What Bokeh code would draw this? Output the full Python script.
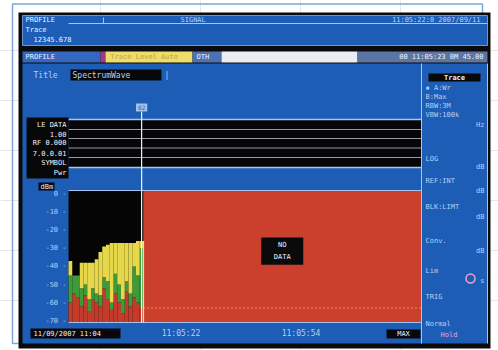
from bokeh.plotting import figure
from bokeh.models import Range1d
from bokeh.core.properties import value
from bokeh.embed import file_html
from bokeh.resources import INLINE

# ---------------- data ----------------
col_top       = [-37, -45, -45, -38, -38, -38, -38, -36, -32, -29, -28, -27, -27, -27, -27, -27, -27, -27, -26, -26]
col_green_top = [-45, -45, -45, -52, -50, -58, -52, -55, -56, -46, -48, -60, -44, -50, -58, -48, -55, -40, -45, -30]
col_red_top   = [-60, -55, -57, -62, -56, -65, -58, -60, -62, -52, -58, -64, -55, -60, -66, -54, -62, -57, -60, -63]
db_ticks = [0, -10, -20, -30, -40, -50, -60, -70]
db_tick_labels = ["0 -", "-10 -", "-20 -", "-30 -", "-40 -", "-50 -", "-60 -", "-70 -"]
db_floor = -71
db_ceiling = 2
t_span = 94
time_ticks = [30, 62]
time_labels = ["11:05:22", "11:05:54"]
start_label = "11/09/2007 11:04"
cursor_t = 19.5
cursor_label = "02"
limit_db = -63
band_labels = ["LE DATA", "1.00", "RF 0.000", "7.0.0.01", "SYMBOL"]
panel_labels = ["\u25aa A:Wr", "  B:Max", "RBW:3M", "VBW:100k", "LOG", "REF:INT", "BLK:LIMT", "Conv.", "Lim", "TRIG", "Normal"]
panel_units = ["Hz", "dB", "dB", "dB", "dB", "s"]

# ---------------- layout (page pixels) ----------------
X0, PX_PER_S = 68.0, 3.75
Y_TOP, PX_PER_DB = 190.0, 1.808
W, H = 498, 350

FONT = value("DejaVu Sans Mono")
WHITE = "#eef3ff"
LIGHT = "#b9d0f2"
BLUE = "#1d5db6"
LINE = "#a9c5ee"

p = figure(width=W, height=H, output_backend="svg", toolbar_location=None,
           x_range=Range1d(0, W), y_range=Range1d(H, 0),
           x_axis_location=None, y_axis_location=None, min_border=0,
           background_fill_color="white", border_fill_color="white")
p.outline_line_color = None
p.extra_x_ranges = {"t": Range1d((0 - X0) / PX_PER_S, (W - X0) / PX_PER_S)}
p.extra_y_ranges = {"db": Range1d(db_ceiling - (H - Y_TOP) / PX_PER_DB,
                                  db_ceiling + (Y_TOP - 0) / PX_PER_DB)}


def box(l, r, t, b, color, line=None, lw=1):
    p.quad(left=l, right=r, top=t, bottom=b, fill_color=color, line_color=line, line_width=lw)


def txt(x, y, s, color=WHITE, size="8px", align="left", style="normal", **kw):
    p.text(x=[x], y=[y], text=[s], text_color=color, text_font=FONT, text_font_size=size,
           text_align=align, text_baseline="middle", text_font_style=style, **kw)


# paper frame and screen bezel
box(12, 482, 3.5, 343, None, line="#7ea7dc", lw=1.5)
box(18, 490, 12, 348, "#0b0b0d")

# header
box(22, 487, 15, 45, BLUE, line="#6f95d0")
p.segment(x0=[68], y0=[23], x1=[487], y1=[23], line_color=LINE, line_width=1)
p.segment(x0=[103], y0=[17], x1=[103], y1=[23], line_color=LINE, line_width=1)
txt(25, 19.5, "PROFILE", size="7px")
txt(25, 29, "Trace", size="7px")
txt(33, 38.5, "12345.678", size="7px")
txt(180, 19.5, "SIGNAL", color=LIGHT, size="7px")
txt(480, 19.5, "11:05:22:0 2007/09/11", color=LIGHT, size="7px", align="right")

# status bar
box(22, 100, 51, 62, "#3467c0")
box(100, 105, 51, 62, "#9a3c86")
box(105, 192, 51, 62, "#eedd6c")
box(192, 221, 51, 62, "#4d72b2")
box(221, 357, 51, 62, "#e9eef4")
box(357, 487, 51, 62, "#5c76a4")
txt(25, 56.5, "PROFILE", size="7px")
txt(110, 56.5, "Trace  Level  Auto", color="#b8a43a", size="7px")
txt(196, 56.5, "OTH", size="7px")
txt(483, 56.5, "00 11:05:23 0M 45.00", size="7px", align="right")

# main screen area
box(22, 487, 63, 343, BLUE)
p.segment(x0=[421, 487], y0=[63, 63], x1=[421, 487], y1=[343, 343], line_color=LINE, line_width=1)

# title line
box(70, 161, 69, 80, "#08080a")
txt(33, 74.5, "Title", color=LIGHT)
txt(72, 74.5, "SpectrumWave", color=LIGHT)
txt(164, 74.5, "|", color=LIGHT)

# trace bands (time axis extent)
band_edges = [119, 129, 138, 147.5, 157, 167]
p.quad(left=[0], right=[t_span], top=[band_edges[0]], bottom=[band_edges[-1]],
       fill_color="#060608", line_color=None, x_range_name="t")
p.segment(x0=[0] * 4, y0=band_edges[1:-1], x1=[t_span] * 4, y1=band_edges[1:-1],
          line_color="#9a9aa0", line_width=1.2, x_range_name="t")
p.segment(x0=[0, 0], y0=[band_edges[0], band_edges[-1]], x1=[t_span, t_span],
          y1=[band_edges[0], band_edges[-1]], line_color=LINE, line_width=1.5, x_range_name="t")
box(26, 68, 117, 178, "#08080a")
mids = [(a + b) / 2 for a, b in zip(band_edges[:-1], band_edges[1:])]
p.text(x=[66] * len(band_labels), y=mids, text=band_labels, text_color=WHITE, text_font=FONT,
       text_font_size="7px", text_align="right", text_baseline="middle")
txt(66, 172, "Pwr", size="7px", align="right")
box(38, 54, 182, 190, "#08080a")
txt(40, 186, "dBm", size="7px")

# spectrogram: background and no-data region
n_cols = len(col_top)
p.quad(left=[0], right=[n_cols], top=[db_ceiling], bottom=[db_floor], fill_color="#050505",
       line_color=None, x_range_name="t", y_range_name="db")
p.quad(left=[n_cols], right=[t_span], top=[db_ceiling], bottom=[db_floor], fill_color="#ca402d",
       line_color=None, x_range_name="t", y_range_name="db")

xs = [i + 0.5 for i in range(n_cols)]
red_b = [db_floor] * n_cols
p.vbar(x=xs, width=1.0, bottom=red_b, top=col_red_top, fill_color="#c33b2a", line_color=None,
       x_range_name="t", y_range_name="db")
p.vbar(x=xs, width=1.0, bottom=col_red_top, top=col_green_top, fill_color="#3f9b3a", line_color=None,
       x_range_name="t", y_range_name="db")
p.vbar(x=xs, width=1.0, bottom=col_green_top, top=col_top, fill_color="#e6d84a", line_color=None,
       x_range_name="t", y_range_name="db")

# limit line, borders, data edge
p.segment(x0=[n_cols], y0=[limit_db], x1=[t_span], y1=[limit_db], line_color="#f3a64a",
          line_width=1.5, line_dash="1 3", x_range_name="t", y_range_name="db")
p.segment(x0=[0, 0], y0=[db_floor, db_ceiling], x1=[t_span, t_span], y1=[db_floor, db_ceiling],
          line_color=LINE, line_width=1.2, x_range_name="t", y_range_name="db")
p.segment(x0=[n_cols], y0=[db_floor], x1=[n_cols], y1=[col_top[-1]], line_color="#f2e27a",
          line_width=1.2, x_range_name="t", y_range_name="db")

# no-data badge
mid_t = (n_cols + t_span) / 2
p.quad(left=[mid_t - 5.6], right=[mid_t + 5.6], top=[-24], bottom=[-39], fill_color="#0a0a0a",
       line_color=None, x_range_name="t", y_range_name="db")
p.text(x=[mid_t, mid_t], y=[-28, -35], text=["NO", "DATA"], text_color=WHITE, text_font=FONT,
       text_font_size="7px", text_align="center", text_baseline="middle",
       x_range_name="t", y_range_name="db")

# cursor
p.segment(x0=[cursor_t], y0=[111], x1=[cursor_t], y1=[322], line_color="#f0f4ff", line_width=1.2,
          x_range_name="t")
p.quad(left=[cursor_t - 1.5], right=[cursor_t + 1.5], top=[103], bottom=[111], fill_color="#9fc2f0",
       line_color=None, x_range_name="t")
p.text(x=[cursor_t], y=[107], text=[cursor_label], text_color=BLUE, text_font=FONT,
       text_font_size="6px", text_align="center", text_baseline="middle", x_range_name="t")

# level axis labels
p.text(x=[66] * len(db_ticks), y=db_ticks, text=db_tick_labels, text_color=LIGHT, text_font=FONT,
       text_font_size="7px", text_align="right", text_baseline="middle", y_range_name="db")

# time axis labels
box(30, 120, 328, 338, "#08080a")
txt(33, 333, start_label, size="7px")
p.text(x=time_ticks, y=[333] * len(time_ticks), text=time_labels, text_color=LIGHT, text_font=FONT,
       text_font_size="8px", text_align="center", text_baseline="middle", x_range_name="t")
box(386, 420, 329, 338, "#08080a")
txt(403, 333.5, "MAX", size="7px", align="center")

# right-hand panel
box(428, 480, 73, 81, "#08080a")
txt(454, 77, "Trace", size="7px", align="center", style="bold")
panel_y = [87, 96, 105, 114, 158, 180, 206, 240, 270, 296, 323]
p.text(x=[425] * len(panel_labels), y=panel_y, text=panel_labels, text_color=LIGHT, text_font=FONT,
       text_font_size="7px", text_align="left", text_baseline="middle")
unit_y = [124, 166, 190, 216, 250, 280]
p.text(x=[484] * len(panel_units), y=unit_y, text=panel_units, text_color=LIGHT, text_font=FONT,
       text_font_size="7px", text_align="right", text_baseline="middle")
p.scatter(x=[470], y=[278], size=9, fill_color=None, line_color="#e6a6c8", line_width=1.5)
txt(440, 334, "Hold", color="#e6a6d8", size="7px")

open("out.html", "w").write(file_html(p, INLINE))
